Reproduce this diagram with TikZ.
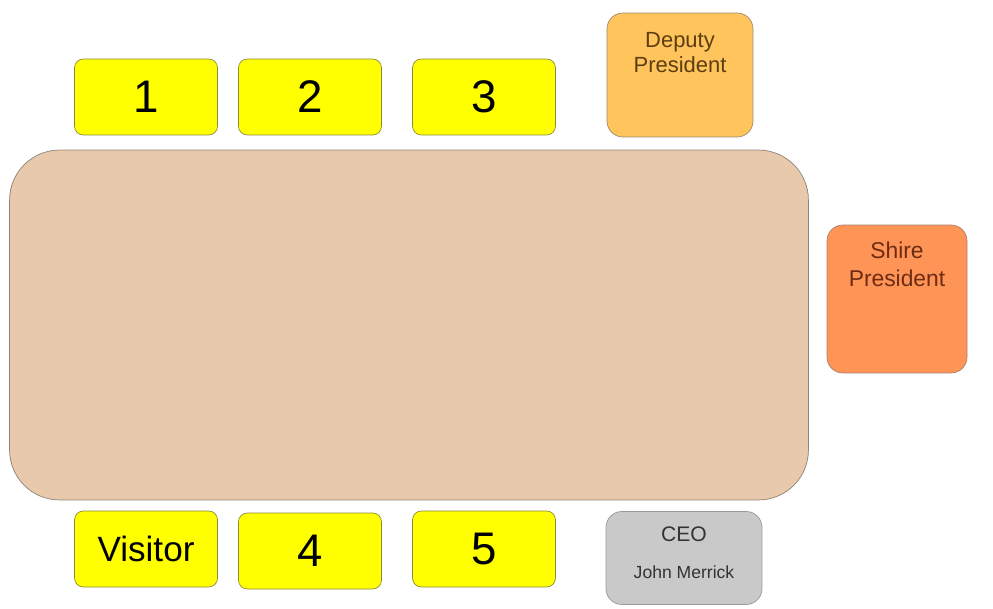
\documentclass[tikz,border=0pt]{standalone}
\usepackage{fontspec}
\setmainfont{Liberation Sans}
\usetikzlibrary{positioning}
\definecolor{Seat}{HTML}{FFFF00}
\definecolor{SeatLine}{HTML}{8C8A3A}
\definecolor{Table}{HTML}{E8C9AC}
\definecolor{TableLine}{HTML}{8E8274}
\definecolor{Deputy}{HTML}{FFC45C}
\definecolor{DeputyText}{HTML}{5C3E12}
\definecolor{Shire}{HTML}{FF9457}
\definecolor{ShireText}{HTML}{6E2C12}
\definecolor{Ceo}{HTML}{C9C9C9}
\definecolor{CeoText}{HTML}{333333}

\begin{document}
\begin{tikzpicture}[x=0.02cm,y=-0.02cm,
    seat/.style={draw=SeatLine,fill=Seat,rounded corners=5pt,minimum width=2.86cm,minimum height=1.52cm,font=\fontsize{26}{30}\selectfont},
    chair/.style={draw=#1Line,rounded corners=9pt,minimum width=2.86cm,inner sep=0pt},
    chairtext/.style={anchor=north,align=center,inner sep=0pt}]
    \useasboundingbox (0,0) rectangle (993,608);
    \node[draw=TableLine,fill=Table,rounded corners=1cm,minimum width=15.98cm,minimum height=7cm] (table) at (409,325) {};
    % top row
    \node[seat] (s1) at (146,97) {1};
    \node[seat] (s2) at (310,97) {2};
    \node[seat] (s3) at (484,97) {3};
    \node[draw=DeputyText!60,fill=Deputy,rounded corners=9pt,minimum width=2.92cm,minimum height=2.48cm,
      label={[chairtext,text=DeputyText,font=\fontsize{12.5}{14.2}\selectfont,yshift=-0.38cm]north:Deputy\\President}] (dep) at (680,75) {};
    % head of table
    \node[draw=ShireText!60,fill=Shire,rounded corners=9pt,minimum width=2.8cm,minimum height=2.96cm,
      label={[chairtext,text=ShireText,font=\fontsize{13}{16}\selectfont,yshift=-0.34cm]north:Shire\\President}] (shire) at (897,299) {};
    % bottom row
    \node[seat,font=\fontsize{20}{24}\selectfont] (vis) at (146,549) {Visitor};
    \node[seat] (s4) at (310,551) {4};
    \node[seat] (s5) at (484,549) {5};
    \node[draw=CeoText!50,fill=Ceo,rounded corners=9pt,minimum width=3.12cm,minimum height=1.86cm,
      label={[chairtext,text=CeoText,yshift=-0.3cm]north:{\fontsize{12}{14}\selectfont CEO}\\[9pt]{\fontsize{10}{12}\selectfont John Merrick}}] (ceo) at (684,558) {};
\end{tikzpicture}
\end{document}
